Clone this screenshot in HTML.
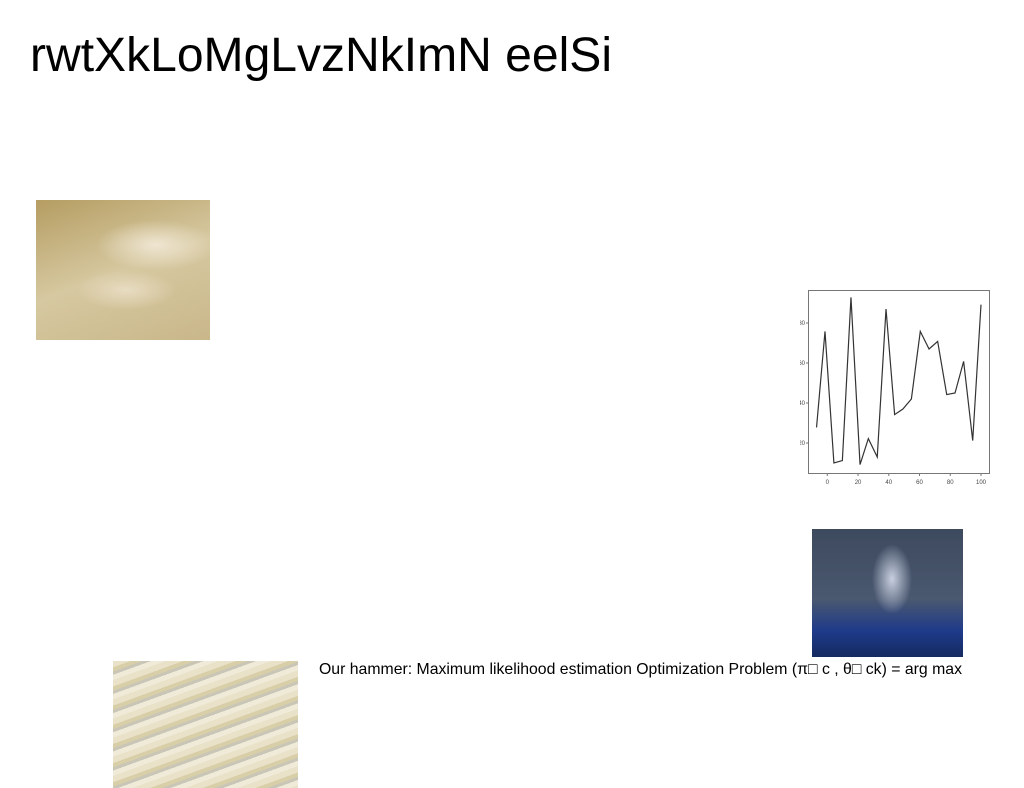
<!DOCTYPE html>
<html><head><meta charset="utf-8"><style>
body{margin:0;background:#fff;width:1024px;height:788px;overflow:hidden;position:relative;font-family:"Liberation Sans",sans-serif}
.abs{position:absolute}
</style></head><body>
<svg class="abs" style="left:0;top:0" width="1024" height="788">
<text x="30" y="71" font-size="48" textLength="582" lengthAdjust="spacingAndGlyphs" font-family="Liberation Sans, sans-serif">rwtXkLoMgLvzNkImN eelSi</text>
<text x="319" y="674" font-size="16" textLength="643" lengthAdjust="spacingAndGlyphs" font-family="Liberation Sans, DejaVu Sans, sans-serif">Our hammer: Maximum likelihood estimation Optimization Problem (π□ c , θ□ ck) = arg max</text>
</svg>
<div class="abs" style="left:36px;top:200px;width:174px;height:140px;background:radial-gradient(ellipse 60px 25px at 120px 45px,#efe6d2,transparent),radial-gradient(ellipse 50px 20px at 90px 90px,#e8dcc2,transparent),linear-gradient(160deg,#b59d62,#d6c8a0 50%,#c9b78a)"></div>
<div class="abs" style="left:812px;top:529px;width:151px;height:128px;background:radial-gradient(ellipse 20px 35px at 80px 50px,#c8d0e0,transparent),linear-gradient(180deg,#3d4a5e 0%,#4a5870 55%,#1e3a8a 80%,#152a60)"></div>
<div class="abs" style="left:113px;top:661px;width:185px;height:127px;background:repeating-linear-gradient(160deg,#e9e2c8 0 6px,#d8cfa8 6px 10px,#c9c6b8 10px 13px,#f0ebd8 13px 18px)"></div>
<svg class="abs" style="left:800px;top:285px" width="200" height="205" id="chart"></svg>
<script>
const xs=[-7,-1.5,4.3,9.8,15.4,21.3,26.7,32.5,38.2,43.8,49.2,54.7,60.5,66.2,71.8,77.7,83.1,88.7,94.6,100];
const ys=[27.8,75.8,10,11.2,92.8,9.2,22.2,13,87,34.2,37,42,75.8,67,70.8,44.2,45,60.8,21.2,89.2];
const xTicks=[0,20,40,60,80,100];
const yTicks=[20,40,60,80];
const svg=document.getElementById('chart');
const NS='http://www.w3.org/2000/svg';
const ox=800,oy=285;
const X=v=>827.3+v*1.537-ox;
const Y=v=>483-v*2-oy;
function mk(t,a){const e=document.createElementNS(NS,t);for(const k in a)e.setAttribute(k,a[k]);svg.appendChild(e);return e;}
const fr=mk('rect',{x:8.5,y:5.5,width:181,height:183,fill:'none',stroke:'#777','stroke-width':1});


xTicks.forEach(t=>{
 const l=mk('line',{x1:X(t),x2:X(t),y1:188.5,y2:191,stroke:'#777'});
 
 
 const tx=mk('text',{x:X(t),y:199,'font-size':6,'text-anchor':'middle',fill:'#444','font-family':'Liberation Sans, sans-serif'});
 tx.textContent=t;
 
 
});
yTicks.forEach(t=>{
 const l=mk('line',{x1:6,x2:8.5,y1:Y(t),y2:Y(t),stroke:'#777'});
 
 
 const tx=mk('text',{x:5,y:Y(t)+2,'font-size':6,'text-anchor':'end',fill:'#444','font-family':'Liberation Sans, sans-serif'});
 tx.textContent=t;
 
 
});
const p=mk('polyline',{points:xs.map((x,i)=>X(x)+','+Y(ys[i])).join(' '),fill:'none',stroke:'#333','stroke-width':1.2});


</script>
</body></html>
